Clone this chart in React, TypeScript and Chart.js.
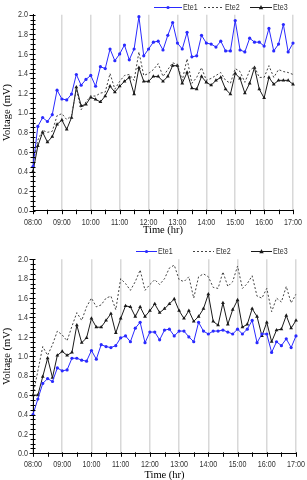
import React, { useEffect, useRef } from 'react';
import { Chart, registerables } from 'chart.js';

Chart.register(...registerables);

// ---- categories (10-minute readings, 08:00 – 17:00) ----
const times: string[] = [];
for (let h = 8; h <= 17; h++) {
  for (let m = 0; m < 60; m += 10) {
    if (h === 17 && m > 0) break;
    times.push(`${String(h).padStart(2, '0')}:${String(m).padStart(2, '0')}`);
  }
}
const hourTicks = ['08:00', '09:00', '10:00', '11:00', '12:00', '13:00', '14:00', '15:00', '16:00', '17:00'];
const seriesNames = ['Ete1', 'Ete2', 'Ete3'];

// ---- top panel ----
const topEte1 = [0.45, 0.86, 0.95, 0.91, 0.98, 1.23, 1.14, 1.13, 1.19, 1.39, 1.28, 1.34, 1.38, 1.27, 1.47, 1.45, 1.65, 1.53, 1.60, 1.69, 1.54, 1.65, 1.98, 1.58, 1.65, 1.72, 1.73, 1.64, 1.79, 1.92, 1.71, 1.65, 1.82, 1.57, 1.58, 1.79, 1.71, 1.70, 1.67, 1.73, 1.63, 1.63, 1.94, 1.64, 1.62, 1.76, 1.72, 1.72, 1.68, 1.86, 1.63, 1.70, 1.90, 1.62, 1.71];
const topEte2 = [0.48, 0.72, 0.82, 0.80, 0.81, 0.97, 0.99, 0.93, 0.97, 1.24, 1.03, 1.11, 1.17, 1.17, 1.20, 1.21, 1.40, 1.24, 1.32, 1.38, 1.39, 1.33, 1.62, 1.38, 1.40, 1.44, 1.50, 1.37, 1.44, 1.51, 1.49, 1.33, 1.55, 1.30, 1.36, 1.46, 1.33, 1.35, 1.38, 1.41, 1.33, 1.30, 1.45, 1.42, 1.31, 1.43, 1.47, 1.36, 1.36, 1.48, 1.36, 1.44, 1.42, 1.41, 1.39];
const topEte3 = [0.40, 0.66, 0.80, 0.70, 0.755, 0.88, 0.925, 0.83, 0.95, 1.26, 1.07, 1.085, 1.157, 1.136, 1.11, 1.17, 1.27, 1.21, 1.27, 1.32, 1.36, 1.19, 1.46, 1.32, 1.32, 1.37, 1.37, 1.32, 1.37, 1.48, 1.48, 1.30, 1.41, 1.25, 1.24, 1.37, 1.31, 1.28, 1.33, 1.36, 1.24, 1.19, 1.40, 1.35, 1.20, 1.30, 1.46, 1.24, 1.15, 1.36, 1.29, 1.33, 1.33, 1.33, 1.29];

// ---- bottom panel ----
const botEte1 = [0.40, 0.56, 0.72, 0.77, 0.74, 0.88, 0.85, 0.86, 0.98, 0.98, 0.96, 0.95, 1.06, 0.97, 1.12, 1.10, 1.09, 1.11, 1.19, 1.21, 1.15, 1.29, 1.35, 1.14, 1.25, 1.25, 1.17, 1.27, 1.28, 1.21, 1.26, 1.26, 1.20, 1.15, 1.35, 1.26, 1.23, 1.26, 1.26, 1.27, 1.25, 1.23, 1.28, 1.23, 1.28, 1.37, 1.14, 1.23, 1.23, 1.04, 1.15, 1.11, 1.18, 1.09, 1.21];
const botEte2 = [0.60, 0.85, 1.10, 1.01, 1.12, 1.26, 1.22, 1.16, 1.31, 1.45, 1.37, 1.51, 1.60, 1.51, 1.53, 1.60, 1.62, 1.48, 1.80, 1.75, 1.68, 1.77, 1.89, 1.68, 1.74, 1.79, 1.74, 1.80, 1.91, 1.94, 1.79, 1.77, 1.82, 1.60, 1.82, 1.85, 1.82, 1.71, 1.70, 1.87, 1.72, 1.77, 1.93, 1.70, 1.75, 1.83, 1.62, 1.60, 1.70, 1.46, 1.60, 1.56, 1.72, 1.55, 1.64];
const botEte3 = [0.60, 0.60, 0.79, 0.98, 0.78, 1.01, 1.05, 1.01, 1.04, 1.32, 1.14, 1.19, 1.39, 1.30, 1.30, 1.37, 1.44, 1.24, 1.39, 1.52, 1.51, 1.41, 1.51, 1.41, 1.47, 1.54, 1.45, 1.49, 1.54, 1.59, 1.47, 1.39, 1.47, 1.36, 1.41, 1.49, 1.64, 1.36, 1.32, 1.55, 1.33, 1.48, 1.58, 1.30, 1.33, 1.49, 1.41, 1.21, 1.35, 1.15, 1.27, 1.28, 1.42, 1.29, 1.37];

const LABEL_FONT = "9.5px 'Liberation Sans', Arial, sans-serif";
const LABEL_SX = 0.75; // horizontally condensed labels, like the original's narrow face
const LABEL_COLOR = '#333';
const TITLE_FONT = { family: "'Liberation Serif', 'Times New Roman', serif", size: 10.5, lineHeight: 1 };
const W = 307;
const H = 240;

type LegendItem = { x0: number; x1: number; tx: number };
type Layout = {
  padTop: number;
  padRight: number;
  xAxisH: number;
  xTitlePad: number;
  legendY: number;
  legend: LegendItem[];
};

const topLayout: Layout = {
  padTop: 14.7,
  padRight: 14,
  xAxisH: 29.3,
  xTitlePad: 5,
  legendY: 7,
  legend: [
    { x0: 154, x1: 182, tx: 183 },
    { x0: 204, x1: 224, tx: 225 },
    { x0: 250, x1: 272, tx: 273 },
  ],
};

const botLayout: Layout = {
  padTop: 19.3,
  padRight: 11,
  xAxisH: 26.7,
  xTitlePad: 0,
  legendY: 11,
  legend: [
    { x0: 136, x1: 157, tx: 158 },
    { x0: 193, x1: 214, tx: 216 },
    { x0: 251, x1: 272, tx: 273 },
  ],
};

function drawLabel(ctx: CanvasRenderingContext2D, text: string, x: number, y: number, align: CanvasTextAlign) {
  ctx.save();
  ctx.translate(x, y);
  ctx.scale(LABEL_SX, 1);
  ctx.font = LABEL_FONT;
  ctx.fillStyle = LABEL_COLOR;
  ctx.textAlign = align;
  ctx.textBaseline = 'middle';
  ctx.fillText(text, 0, 0);
  ctx.restore();
}

function drawMarker(ctx: CanvasRenderingContext2D, style: string, x: number, y: number, r: number, color: string) {
  if (r <= 0) return;
  ctx.save();
  ctx.fillStyle = color;
  ctx.beginPath();
  if (style === 'triangle') {
    ctx.moveTo(x, y - r * 1.1);
    ctx.lineTo(x + r, y + r * 0.8);
    ctx.lineTo(x - r, y + r * 0.8);
    ctx.closePath();
  } else {
    ctx.arc(x, y, r, 0, Math.PI * 2);
  }
  ctx.fill();
  ctx.restore();
}

function makeLegendPlugin(lay: Layout) {
  return {
    id: 'drawnLegend',
    afterDraw(chart: any) {
      const ctx: CanvasRenderingContext2D = chart.ctx;
      chart.data.datasets.forEach((ds: any, i: number) => {
        const it = lay.legend[i];
        if (!it) return;
        const y = lay.legendY + 0.5;
        ctx.save();
        ctx.strokeStyle = ds.borderColor;
        ctx.lineWidth = ds.borderWidth || 1;
        ctx.setLineDash(ds.borderDash || []);
        ctx.beginPath();
        ctx.moveTo(it.x0, y);
        ctx.lineTo(it.x1, y);
        ctx.stroke();
        ctx.restore();
        drawMarker(ctx, ds.pointStyle, (it.x0 + it.x1) / 2, y, ds.pointRadius, ds.borderColor);
        drawLabel(ctx, ds.label, it.tx, y, 'left');
      });
    },
  };
}

const axisTicksPlugin = {
  id: 'axisTicks',
  afterDraw(chart: any) {
    const ctx: CanvasRenderingContext2D = chart.ctx;
    const { left, bottom } = chart.chartArea;
    const ys = chart.scales.y;
    const xs = chart.scales.x;
    ctx.save();
    ctx.strokeStyle = '#000';
    ctx.lineWidth = 1;
    ctx.beginPath();
    for (let k = 0; k <= 40; k++) {
      const py = Math.round(ys.getPixelForValue(k * 0.05)) + 0.5;
      const major = k % 4 === 0;
      ctx.moveTo(left - (major ? 3.5 : 2.5), py);
      ctx.lineTo(left + 2.5, py);
    }
    for (let i = 0; i < times.length; i += 3) {
      const px = Math.round(xs.getPixelForTick(i)) + 0.5;
      ctx.moveTo(px, bottom - 1);
      ctx.lineTo(px, bottom + 3.5);
    }
    ctx.stroke();
    ctx.restore();
    // tick labels
    ys.ticks.forEach((t: any) => {
      drawLabel(ctx, Number(t.value).toFixed(1), left - 5, ys.getPixelForValue(t.value), 'right');
    });
    times.forEach((lab, i) => {
      if (hourTicks.includes(lab)) drawLabel(ctx, lab, xs.getPixelForTick(i), bottom + 11.5, 'center');
    });
  },
};

function buildConfig(e1: number[], e2: number[], e3: number[], lay: Layout): any {
  return {
    type: 'line',
    data: {
      labels: times,
      datasets: [
        {
          label: seriesNames[0], data: e1, borderColor: '#2a2aff', backgroundColor: '#2a2aff',
          borderWidth: 1, pointRadius: 1.6, pointStyle: 'circle', pointBorderWidth: 0, tension: 0,
        },
        {
          label: seriesNames[1], data: e2, borderColor: '#444444', backgroundColor: '#444444',
          borderWidth: 1, borderDash: [2, 2], pointRadius: 0, tension: 0,
        },
        {
          label: seriesNames[2], data: e3, borderColor: '#1a1a1a', backgroundColor: '#1a1a1a',
          borderWidth: 1, pointRadius: 2.2, pointStyle: 'triangle', pointBorderWidth: 0, tension: 0,
        },
      ],
    },
    options: {
      animation: false,
      responsive: false,
      events: [],
      layout: { padding: { top: lay.padTop, right: lay.padRight, left: 0, bottom: 0 } },
      plugins: { legend: { display: false }, tooltip: { enabled: false } },
      scales: {
        x: {
          type: 'category',
          offset: false,
          grid: {
            color: (c: any) => (c.index % 6 === 0 ? '#d8d8d8' : 'rgba(0,0,0,0)'),
            lineWidth: 1.5,
            drawTicks: false,
          },
          border: { display: true, color: '#000', width: 1 },
          ticks: { display: false, autoSkip: false, maxRotation: 0, minRotation: 0 },
          title: {
            display: true, text: 'Time (hr)', font: TITLE_FONT, color: '#000',
            padding: { top: 0, bottom: lay.xTitlePad },
          },
          afterFit: (s: any) => { s.height = lay.xAxisH; },
        },
        y: {
          min: 0, max: 2,
          grid: { display: false, drawTicks: false },
          border: { display: true, color: '#000', width: 1 },
          ticks: { display: false, stepSize: 0.2 },
          title: {
            display: true, text: 'Voltage (mV)', font: TITLE_FONT, color: '#000',
            padding: { top: 2, bottom: 0 },
          },
          afterFit: (s: any) => { s.width = 33; },
        },
      },
    },
    plugins: [axisTicksPlugin, makeLegendPlugin(lay)],
  };
}

function Panel({ e1, e2, e3, lay }: { e1: number[]; e2: number[]; e3: number[]; lay: Layout }) {
  const ref = useRef<HTMLCanvasElement>(null);
  useEffect(() => {
    if (!ref.current) return;
    const chart = new Chart(ref.current, buildConfig(e1, e2, e3, lay));
    return () => chart.destroy();
  }, []);
  return (
    <div style={{ width: W, height: H }}>
      <canvas ref={ref} width={W} height={H} style={{ display: 'block', width: W, height: H }} />
    </div>
  );
}

export default function App() {
  return (
    <div style={{ position: 'absolute', left: 0, top: 0, width: W, height: 2 * H, background: '#fff' }}>
      <Panel e1={topEte1} e2={topEte2} e3={topEte3} lay={topLayout} />
      <Panel e1={botEte1} e2={botEte2} e3={botEte3} lay={botLayout} />
    </div>
  );
}
